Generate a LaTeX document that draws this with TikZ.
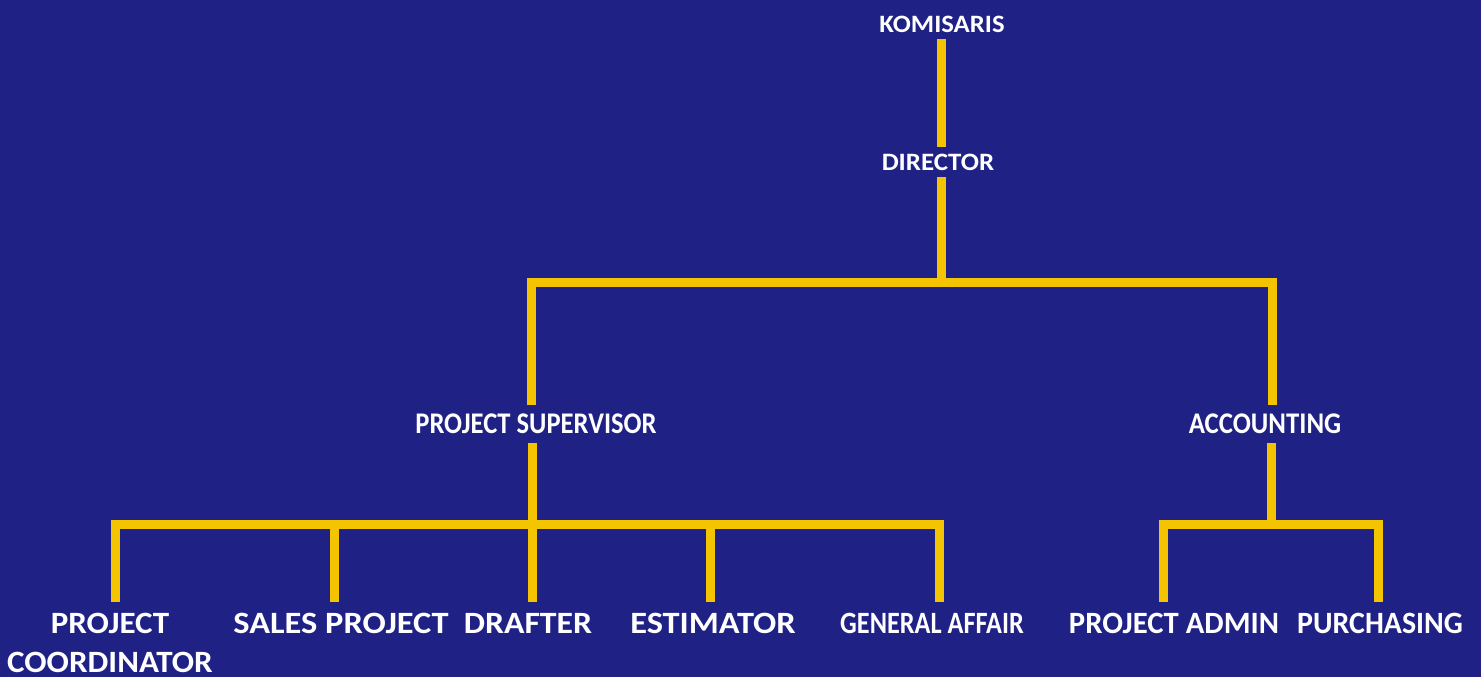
\documentclass[tikz,border=0pt]{standalone}
\usepackage{fontspec}
\setmainfont{Carlito}
\definecolor{bgblue}{HTML}{1F2185}
\definecolor{gold}{HTML}{F5C400}
\newcommand{\sx}[2]{\scalebox{#1}[1]{#2}}
\begin{document}
\begin{tikzpicture}[x=1pt,y=-1pt,
  lbl/.style={text=white, inner sep=0pt, outer sep=0pt, anchor=center, font=\bfseries},
  toplbl/.style={lbl, font=\bfseries\fontsize{25}{30}\selectfont, outer ysep=7pt},
  midlbl/.style={lbl, font=\bfseries\fontsize{30}{36}\selectfont, outer ysep=9pt},
  botlbl/.style={lbl, font=\bfseries\fontsize{31}{39}\selectfont, outer ysep=11pt, align=center},
  conn/.style={draw=gold, line width=9pt, line join=miter}]
\fill[bgblue] (0,0) rectangle (1481,677);
\useasboundingbox (0,0) rectangle (1481,677);
% nodes
\node[toplbl] (kom) at (942,24) {\sx{1.068}{KOMISARIS}};
\node[toplbl] (dir) at (938,162) {\sx{1.078}{DIRECTOR}};
\node[midlbl] (ps) at (536,424) {\sx{0.886}{PROJECT SUPERVISOR}};
\node[midlbl] (acc) at (1265,424) {\sx{0.893}{ACCOUNTING}};
\node[botlbl] (pc) at (110,642.5) {\sx{1.065}{PROJECT}\\\sx{1.065}{COORDINATOR}};
\node[botlbl] (sp) at (341,623) {\sx{1.11}{SALES PROJECT}};
\node[botlbl] (dr) at (528,623) {\sx{1.087}{DRAFTER}};
\node[botlbl] (es) at (713,623) {\sx{1.109}{ESTIMATOR}};
\node[botlbl] (ga) at (932,623) {\sx{0.847}{GENERAL AFFAIR}};
\node[botlbl] (pa) at (1174,623) {\sx{0.99}{PROJECT ADMIN}};
\node[botlbl] (pu) at (1380,623) {\sx{0.965}{PURCHASING}};
% junction coordinates
\coordinate (xtop) at (941,0);
\coordinate (hb1) at (0,282);
\coordinate (xps) at (531,0);
\coordinate (xacc) at (1272,0);
\coordinate (hb2) at (0,524);
\coordinate (xpc) at (115,0);
\coordinate (xsp) at (334,0);
\coordinate (xdr) at (532,0);
\coordinate (xes) at (710,0);
\coordinate (xga) at (939,0);
\coordinate (xacc2) at (1271,0);
\coordinate (xpa) at (1163,0);
\coordinate (xpu) at (1378,0);
% connectors
\draw[conn] (kom.south -| xtop) -- (dir.north -| xtop);
\draw[conn] (dir.south -| xtop) -- (xtop |- hb1);
\draw[conn] (ps.north -| xps) -- (xps |- hb1) -- (xacc |- hb1) -- (acc.north -| xacc);
\draw[conn] (ps.south -| xdr) -- (dr.north -| xdr);
\draw[conn] (pc.north -| xpc) -- (xpc |- hb2) -- (xga |- hb2) -- (ga.north -| xga);
\draw[conn] (xsp |- hb2) -- (sp.north -| xsp);
\draw[conn] (xes |- hb2) -- (es.north -| xes);
\draw[conn] (acc.south -| xacc2) -- (xacc2 |- hb2);
\draw[conn] (pa.north -| xpa) -- (xpa |- hb2) -- (xpu |- hb2) -- (pu.north -| xpu);
\end{tikzpicture}
\end{document}
